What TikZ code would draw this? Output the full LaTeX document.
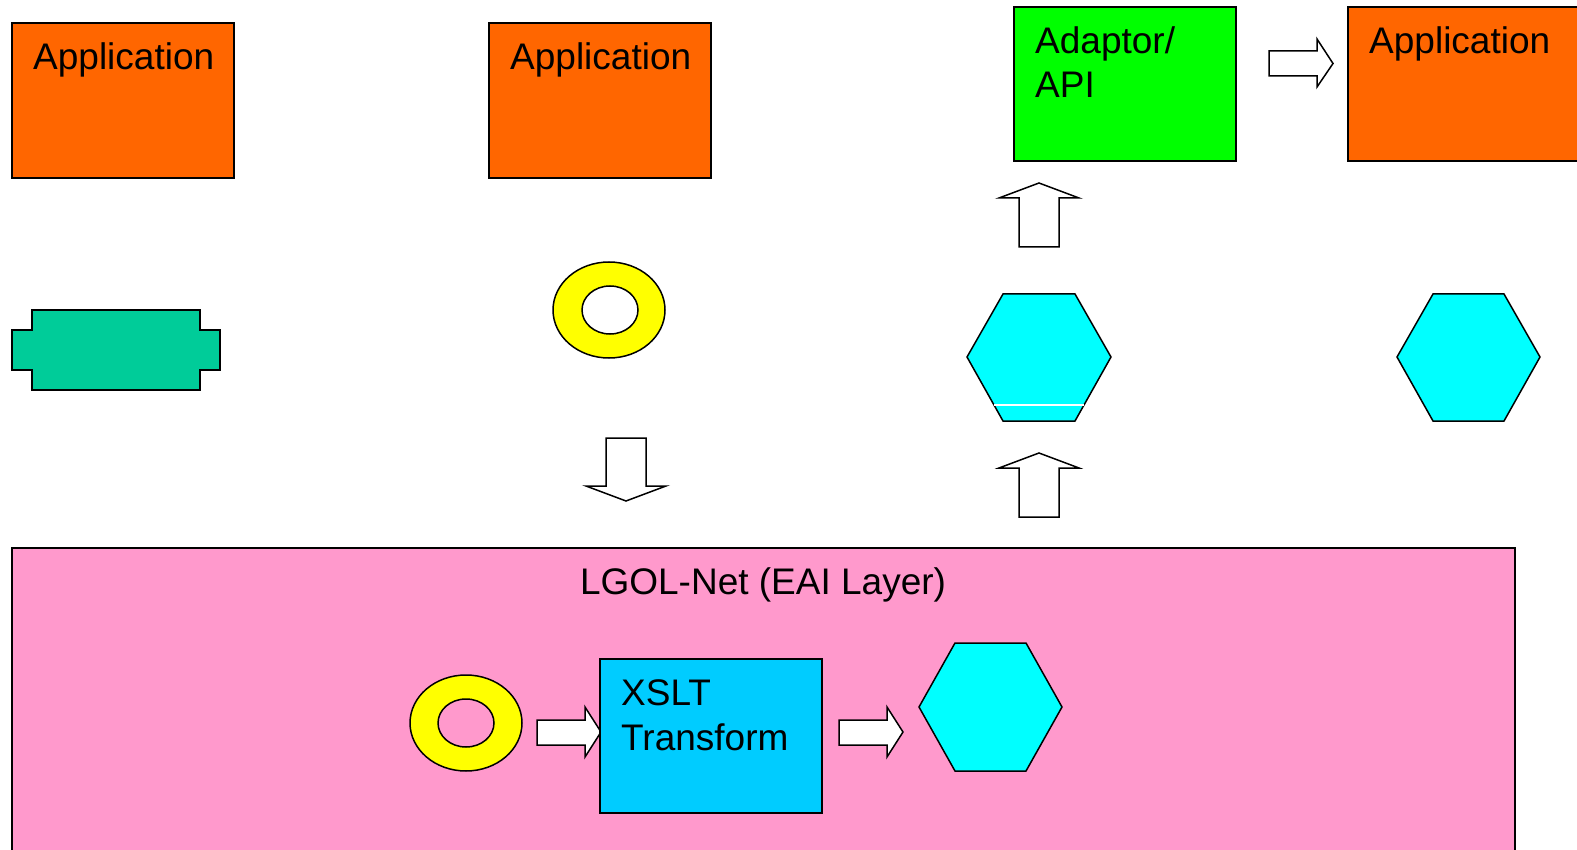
\documentclass[tikz,border=0pt]{standalone}
\usepackage{fontspec}
\setmainfont{Liberation Sans}
\begin{document}
\begin{tikzpicture}[x=1pt,y=-1pt,
  box/.style={draw=black,line width=1.5pt},
  lbl/.style={anchor=base west,inner sep=0pt,font=\fontsize{37}{44}\selectfont,align=left},
  barrow/.style={draw=black,fill=white,line width=1.5pt,line join=miter},
  hexa/.style={draw=black,line width=1.5pt,fill={rgb,255:red,0;green,255;blue,255}},
  ring/.style={draw=black,line width=1.5pt,fill={rgb,255:red,255;green,255;blue,0}}]
\definecolor{appor}{RGB}{255,102,0}
\definecolor{adgreen}{RGB}{0,255,0}
\definecolor{teal2}{RGB}{0,204,153}
\definecolor{pinkl}{RGB}{255,153,204}
\definecolor{xblue}{RGB}{0,204,255}
\useasboundingbox (0,0) rectangle (1577,850);
% top applications
\draw[box,fill=appor] (12,23) rectangle (234,178);
\node[lbl] (t1) at (33,70) {Application};
\draw[box,fill=appor] (489,23) rectangle (711,178);
\node[lbl] (t2) at (510,70) {Application};
\draw[box,fill=adgreen] (1014,7) rectangle (1236,161);
\node[lbl] (t3) at (1035,54) {Adaptor/};
\node[lbl] (t3b) at (1035,98) {API};
\draw[box,fill=appor] (1348,7) rectangle (1590,161);
\node[lbl] (t4) at (1369,54) {Application};
% right arrow top
\draw[barrow] (1269,51) -- (1317,51) -- (1317,39) -- (1333,63.5) -- (1317,87) -- (1317,76) -- (1269,76) -- cycle;
% teal shape
\draw[box,fill=teal2] (32,310) -- (200,310) -- (200,330) -- (220,330) -- (220,370) -- (200,370) -- (200,390) -- (32,390) -- (32,370) -- (12,370) -- (12,330) -- (32,330) -- cycle;
% yellow ring 1
\draw[ring,even odd rule] (609,310) ellipse [x radius=56,y radius=48] (610,310) ellipse [x radius=28,y radius=24];
% down arrow
\draw[barrow] (606,438) -- (646,438) -- (646,486) -- (666,486) -- (626,501) -- (586,486) -- (606,486) -- cycle;
% up arrows
\draw[barrow] (1019,247) -- (1059,247) -- (1059,198) -- (1079,198) -- (1039,183) -- (999,198) -- (1019,198) -- cycle;
\draw[barrow] (1019,517) -- (1059,517) -- (1059,468) -- (1079,468) -- (1039,453) -- (999,468) -- (1019,468) -- cycle;
% hexagons
\draw[hexa] (967,357) -- (1003,294) -- (1075,294) -- (1111,357) -- (1075,421) -- (1003,421) -- cycle;
\draw[white,line width=1.5pt] (994,405) -- (1084,405);
\draw[hexa] (1397,357) -- (1433,294) -- (1504,294) -- (1540,357) -- (1504,421) -- (1433,421) -- cycle;
% pink layer
\draw[box,fill=pinkl] (12,548) rectangle (1515,860);
\node[anchor=base,inner sep=0pt,font=\fontsize{37}{44}\selectfont] (lg) at (763,594) {LGOL-Net (EAI Layer)};
\draw[ring,even odd rule] (466,723) ellipse [x radius=56,y radius=48] (466,723) ellipse [x radius=28,y radius=24];
\draw[barrow] (537,720) -- (585,720) -- (585,707) -- (601,732) -- (585,757) -- (585,745) -- (537,745) -- cycle;
\draw[box,fill=xblue] (600,659) rectangle (822,813);
\node[lbl] (x1) at (621,705) {XSLT};
\node[lbl] (x2) at (621,750) {Transform};
\draw[barrow] (839,720) -- (887,720) -- (887,707) -- (903,732) -- (887,757) -- (887,745) -- (839,745) -- cycle;
\draw[hexa] (919,707) -- (955,643) -- (1026,643) -- (1062,707) -- (1026,771) -- (955,771) -- cycle;
\end{tikzpicture}
\end{document}
